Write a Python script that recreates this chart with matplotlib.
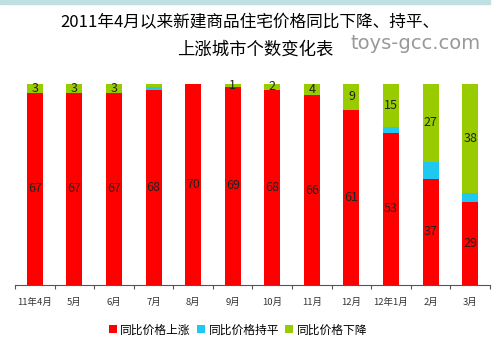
import matplotlib
matplotlib.use("Agg")
import matplotlib.pyplot as plt
import numpy as np

plt.rcParams['font.family'] = ['Noto Sans CJK SC', 'DejaVu Sans']

months = ["11年4月", "5月", "6月", "7月", "8月", "9月", "10月", "11月", "12月", "12年1月", "2月", "3月"]
rise = [67, 67, 67, 68, 70, 69, 68, 66, 61, 53, 37, 29]
flat = [0, 0, 0, 1, 0, 0, 0, 0, 0, 2, 6, 3]
fall = [3, 3, 3, 1, 0, 1, 2, 4, 9, 15, 27, 38]
# labels shown in the picture (7月 and 8月 small segments are unlabeled)
fall_labels = ["3", "3", "3", "", "", "1", "2", "4", "9", "15", "27", "38"]

red = "#ff0000"
cyan = "#1ec8f0"
green = "#99cc00"

fig = plt.figure(figsize=(5, 3.57), dpi=100)
ax = fig.add_axes([0.03, 0.2017, 0.95, 0.563])

x = np.arange(len(months))
w = 0.405
rise = np.array(rise)
flat = np.array(flat)
fall = np.array(fall)

ax.bar(x, rise, w, color=red, label="同比价格上涨")
ax.bar(x, flat, w, bottom=rise, color=cyan, label="同比价格持平")
ax.bar(x, fall, w, bottom=rise + flat, color=green, label="同比价格下降")

for i in range(len(months)):
    ax.text(x[i], rise[i] / 2, str(rise[i]), ha="center", va="center", fontsize=9, color="#222222")
    if fall_labels[i]:
        ax.text(x[i], rise[i] + flat[i] + fall[i] / 2, fall_labels[i], ha="center", va="center",
                fontsize=9, color="#222222")

ax.set_xlim(-0.5, len(months) - 0.5)
ax.set_ylim(0, 70)
for s in ["top", "right", "left"]:
    ax.spines[s].set_visible(False)
ax.spines["bottom"].set_color("#555555")
ax.set_yticks([])
ax.set_xticks(np.arange(-0.5, len(months), 1), minor=False)
ax.set_xticklabels([])
ax.tick_params(axis="x", length=3, color="#555555")
ax.set_xticks(x, minor=True)
ax.set_xticklabels(months, minor=True, fontsize=6.8, color="#333333")
ax.tick_params(axis="x", which="minor", length=0, pad=9)

fig.text(0.5, 0.935, "2011年4月以来新建商品住宅价格同比下降、持平、", ha="center", va="center", fontsize=12)
fig.text(0.51, 0.862, "上涨城市个数变化表", ha="center", va="center", fontsize=12.5)
fig.text(0.832, 0.878, "toys-gcc.com", ha="center", va="center", fontsize=14, color="#999999",
         family="DejaVu Sans")

fig.patches.append(plt.Rectangle((0, 0.99), 0.98, 0.01, transform=fig.transFigure,
                                 color="#bfe0e0", zorder=0))

fig.legend(loc="center", bbox_to_anchor=(0.476, 0.076), ncol=3, frameon=False, fontsize=8.5,
           handlelength=0.7, handleheight=0.7, handletextpad=0.3, columnspacing=0.5)

fig.savefig("out.png", dpi=100)
